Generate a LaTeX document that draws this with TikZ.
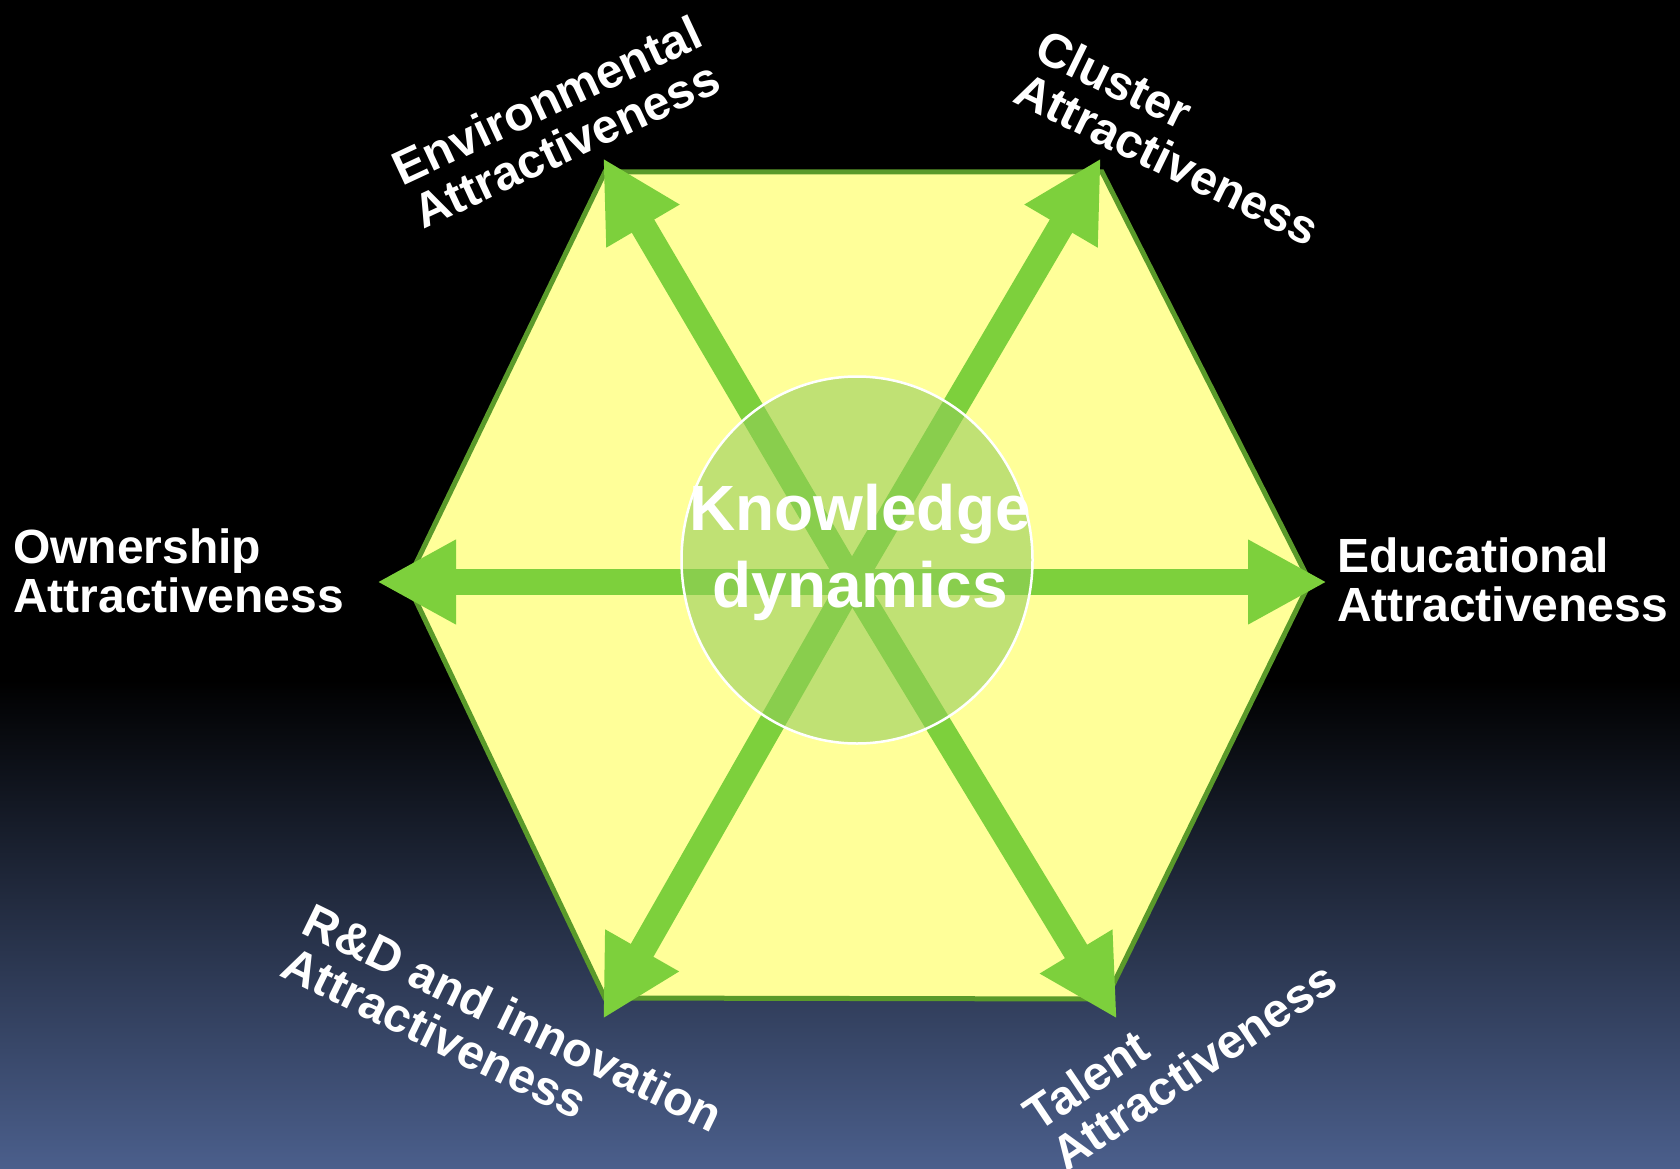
\documentclass[tikz,border=0pt]{standalone}
\usepackage{fontspec}
\setmainfont{Liberation Sans}
\usetikzlibrary{arrows.meta,shapes.geometric}
\definecolor{hexfill}{HTML}{FFFF99}
\definecolor{hexedge}{HTML}{5A9A2A}
\definecolor{spoke}{HTML}{7DD03C}
\definecolor{corefill}{HTML}{93CD5A}
\definecolor{skyend}{HTML}{4B5F8C}
\begin{document}
\begin{tikzpicture}[x=1pt,y=-1pt,
  spokearrow/.style={draw=spoke, line width=26pt, -{Triangle[length=79pt,width=79pt]}},
  sidetext/.style={text=white, font=\fontsize{48}{48.5}\selectfont\bfseries, align=left, inner sep=0pt},
  coretext/.style={text=white, font=\fontsize{64}{77}\selectfont\bfseries, align=center, inner sep=0pt}]

% backdrop: black fading into slate blue at the bottom
\useasboundingbox (0,0) rectangle (1680,1169);
\fill[black] (0,0) rectangle (1680,1169);
\shade[top color=black, bottom color=skyend] (0,680) rectangle (1680,1169);

% hexagon
\draw[hexedge, fill=hexfill, line width=5pt, line join=miter]
  (605,172) -- (1102,172) -- (1310,582) -- (1106,999) -- (605,998) -- (407,582) -- cycle;

% spokes from the hub
\coordinate (hub) at (852,582);
\coordinate (tipE)  at (1327,582);
\coordinate (tipW)  at (377,582);
\coordinate (tipNW) at (603,158);
\coordinate (tipNE) at (1101,158);
\coordinate (tipSW) at (603,1019);
\coordinate (tipSE) at (1117,1019);
\foreach \t in {tipE,tipW,tipNW,tipNE,tipSW,tipSE}
  \draw[spokearrow] (hub) -- (\t);

% translucent core
\node[ellipse, minimum width=351pt, minimum height=367pt, inner sep=0pt,
      fill=corefill, fill opacity=0.58, draw=white, draw opacity=1, line width=2.5pt]
  (core) at (857,560) {};
\node[coretext] (kd) at (860,552) {Knowledge\\dynamics};

% the six factors
\node[sidetext, anchor=west] (own) at (13,571) {Ownership\\Attractiveness};
\node[sidetext, anchor=west] (edu) at (1337,580) {Educational\\Attractiveness};
\node[sidetext, rotate=25]  (env) at (557,122) {Environmental\\Attractiveness};
\node[sidetext, rotate=-26] (clu) at (1178,137) {Cluster\\Attractiveness};
\node[sidetext, rotate=-26] (rd)  at (503,1039) {R\&D and innovation\\Attractiveness};
\node[sidetext, rotate=34]  (tal) at (1180,1046) {Talent\\Attractiveness};
\end{tikzpicture}
\end{document}
